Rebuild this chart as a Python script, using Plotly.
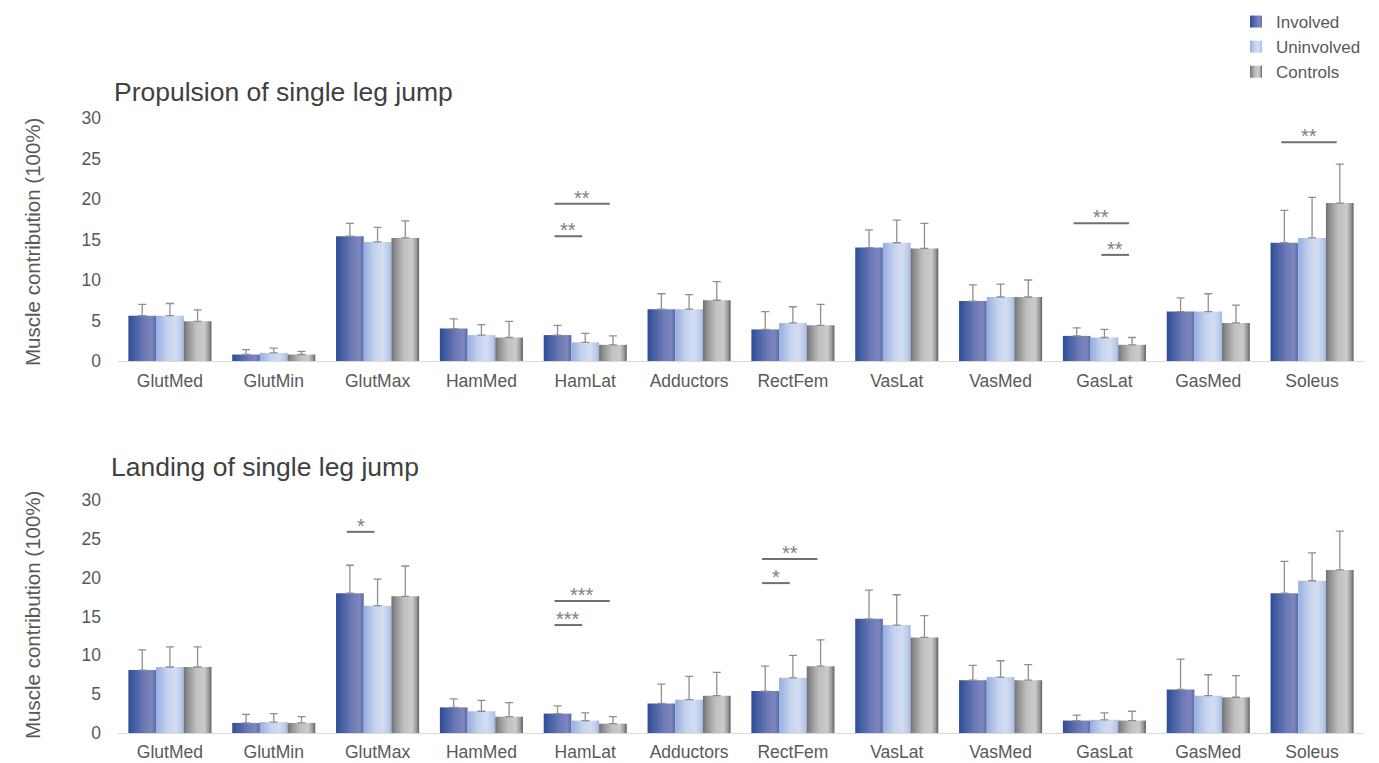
import plotly.graph_objects as go

muscles = ["GlutMed", "GlutMin", "GlutMax", "HamMed", "HamLat", "Adductors",
           "RectFem", "VasLat", "VasMed", "GasLat", "GasMed", "Soleus"]
groups = ["Involved", "Uninvolved", "Controls"]

# Propulsion of single leg jump
prop_involved = [5.6, 0.8, 15.4, 4.0, 3.2, 6.4, 3.9, 14.0, 7.4, 3.1, 6.1, 14.6]
prop_involved_sd = [1.4, 0.6, 1.6, 1.2, 1.2, 1.9, 2.2, 2.2, 2.0, 1.0, 1.7, 4.0]
prop_uninvolved = [5.6, 1.0, 14.7, 3.2, 2.3, 6.4, 4.7, 14.6, 7.9, 2.9, 6.1, 15.2]
prop_uninvolved_sd = [1.5, 0.6, 1.8, 1.3, 1.1, 1.8, 2.0, 2.8, 1.6, 1.0, 2.2, 5.0]
prop_controls = [4.9, 0.8, 15.2, 2.9, 2.0, 7.5, 4.4, 13.9, 7.9, 2.0, 4.7, 19.5]
prop_controls_sd = [1.4, 0.4, 2.1, 2.0, 1.1, 2.3, 2.6, 3.1, 2.1, 0.9, 2.2, 4.8]

# Landing of single leg jump
land_involved = [8.1, 1.3, 18.0, 3.3, 2.5, 3.8, 5.4, 14.7, 6.8, 1.6, 5.6, 18.0]
land_involved_sd = [2.6, 1.1, 3.6, 1.1, 1.0, 2.5, 3.2, 3.7, 1.9, 0.7, 3.9, 4.1]
land_uninvolved = [8.5, 1.4, 16.4, 2.8, 1.6, 4.3, 7.1, 13.9, 7.2, 1.7, 4.8, 19.6]
land_uninvolved_sd = [2.6, 1.1, 3.4, 1.4, 1.0, 3.0, 2.9, 3.9, 2.1, 0.9, 2.7, 3.6]
land_controls = [8.5, 1.3, 17.6, 2.1, 1.2, 4.8, 8.6, 12.3, 6.8, 1.6, 4.6, 21.0]
land_controls_sd = [2.6, 0.8, 3.9, 1.8, 0.9, 3.0, 3.4, 2.8, 2.0, 1.2, 2.8, 5.0]

# significance brackets: (muscle, from group idx, to group idx, y level, label)
prop_sig = [("HamLat", 0, 2, 19.4, "**"), ("HamLat", 0, 1, 15.4, "**"),
            ("GasLat", 0, 2, 17.0, "**"), ("GasLat", 1, 2, 13.1, "**"),
            ("Soleus", 0, 2, 27.0, "**")]
land_sig = [("GlutMax", 0, 1, 25.9, "*"),
            ("HamLat", 0, 2, 17.0, "***"), ("HamLat", 0, 1, 13.9, "***"),
            ("RectFem", 0, 2, 22.4, "**"), ("RectFem", 0, 1, 19.3, "*")]

y_ticks = [0, 5, 10, 15, 20, 25, 30]

colors = ["#5567a8", "#bccbeb", "#a8a8a8"]
err_color = "#8f8f8f"
text_color = "#595959"
font_family = "Liberation Sans, Arial, sans-serif"

fig = go.Figure()

panels = [
    ("x", "y", [prop_involved, prop_uninvolved, prop_controls],
     [prop_involved_sd, prop_uninvolved_sd, prop_controls_sd], True),
    ("x2", "y2", [land_involved, land_uninvolved, land_controls],
     [land_involved_sd, land_uninvolved_sd, land_controls_sd], False),
]

for xa, ya, vals, sds, show in panels:
    for gi, g in enumerate(groups):
        fig.add_trace(go.Bar(
            x=muscles, y=vals[gi], name=g, xaxis=xa, yaxis=ya,
            marker=dict(color=colors[gi], line=dict(width=0)),
            error_y=dict(type="data", array=sds[gi], symmetric=False,
                         arrayminus=[0] * len(muscles), color=err_color,
                         thickness=1.3, width=4),
            showlegend=show, legendgroup=g,
        ))

bar_w = 0.8 / 3
offsets = [-bar_w, 0, bar_w]

def add_sig(sig, xref, yref):
    for m, a, b, yv, lab in sig:
        ci = muscles.index(m)
        x0 = ci + offsets[a] - 0.03
        x1 = ci + offsets[b] - 0.03
        fig.add_shape(type="line", xref=xref, yref=yref, x0=x0, x1=x1, y0=yv, y1=yv,
                      line=dict(color="#6f6f6f", width=2))
        fig.add_annotation(x=(x0 + x1) / 2, y=yv, xref=xref, yref=yref, text=lab,
                           showarrow=False, yanchor="middle", yshift=6,
                           font=dict(size=20, color="#808080", family=font_family))

add_sig(prop_sig, "x", "y")
add_sig(land_sig, "x2", "y2")

axis_common = dict(showgrid=False, zeroline=False, automargin=False,
                   tickfont=dict(size=17.5, color=text_color, family=font_family))
xdom = [118 / 1379, 1364 / 1379]
fig.update_layout(
    width=1379, height=763,
    paper_bgcolor="white", plot_bgcolor="white",
    margin=dict(l=0, r=0, t=0, b=0, autoexpand=False),
    barmode="group", bargap=0.2, bargroupgap=0,
    font=dict(family=font_family, color=text_color),
    xaxis=dict(domain=xdom, anchor="y", showline=True, linecolor="#d9d9d9", linewidth=1,
               ticks="", ticklabelstandoff=4, **axis_common),
    yaxis=dict(domain=[1 - 361 / 763, 1 - 118 / 763], anchor="x", range=[0, 30],
               tickvals=y_ticks, showline=False, ticks="", ticklabelstandoff=16, **axis_common),
    xaxis2=dict(domain=xdom, anchor="y2", showline=True, linecolor="#d9d9d9", linewidth=1,
                ticks="", ticklabelstandoff=3, **axis_common),
    yaxis2=dict(domain=[1 - 733 / 763, 1 - 500 / 763], anchor="x2", range=[0, 30],
                tickvals=y_ticks, showline=False, ticks="", ticklabelstandoff=16, **axis_common),
    legend=dict(x=1236 / 1379, y=1 - 4 / 763, xanchor="left", yanchor="top",
                font=dict(size=17, color=text_color, family=font_family),
                bgcolor="rgba(0,0,0,0)", itemwidth=30, tracegroupgap=0,
                traceorder="normal"),
)

fig.add_annotation(text="Propulsion of single leg jump", xref="paper", yref="paper",
                   x=112 / 1379, y=1 - 92 / 763, xanchor="left", yanchor="middle",
                   showarrow=False, font=dict(size=26.5, color="#404040", family=font_family))
fig.add_annotation(text="Landing of single leg jump", xref="paper", yref="paper",
                   x=109 / 1379, y=1 - 467 / 763, xanchor="left", yanchor="middle",
                   showarrow=False, font=dict(size=26.5, color="#404040", family=font_family))
for yc in [242, 615]:
    fig.add_annotation(text="Muscle contribution (100%)", xref="paper", yref="paper",
                       x=32 / 1379, y=1 - yc / 763, xanchor="center", yanchor="middle",
                       textangle=-90, showarrow=False,
                       font=dict(size=20.5, color=text_color, family=font_family))

post = """
document.documentElement.style.margin = '0';
document.documentElement.style.padding = '0';
document.documentElement.style.overflow = 'hidden';
document.body.style.margin = '0';
document.body.style.padding = '0';
document.body.style.overflow = 'hidden';
var gd = document.getElementById('{plot_id}');
gd.style.position = 'absolute';
gd.style.left = '0px';
gd.style.top = '0px';
var svg = gd.querySelector('svg.main-svg');
var ns = 'http://www.w3.org/2000/svg';
var defs = svg.querySelector('defs');
if (!defs) { defs = document.createElementNS(ns, 'defs'); svg.insertBefore(defs, svg.firstChild); }
function mk(id, stops) {
  var g = document.createElementNS(ns, 'linearGradient');
  g.setAttribute('id', id); g.setAttribute('x1', '0'); g.setAttribute('x2', '1');
  g.setAttribute('y1', '0'); g.setAttribute('y2', '0');
  stops.forEach(function(s) {
    var st = document.createElementNS(ns, 'stop');
    st.setAttribute('offset', s[0]); st.setAttribute('stop-color', s[1]);
    g.appendChild(st);
  });
  defs.appendChild(g);
}
mk('gInv', [['0', '#2f4c96'], ['0.15', '#3d5aa0'], ['0.6', '#6f7bb7'], ['0.85', '#7d86bd'], ['1', '#5a68a8']]);
mk('gUni', [['0', '#94aee0'], ['0.4', '#c6d3ee'], ['0.7', '#d3ddf1'], ['0.9', '#bccbeb'], ['1', '#9fb5e3']]);
mk('gCon', [['0', '#6f6f6f'], ['0.12', '#8c8c8c'], ['0.45', '#c0c0c0'], ['0.75', '#cbcbcb'], ['0.9', '#9a9a9a'], ['1', '#5f5f5f']]);
var map = {'rgb(85, 103, 168)': 'url(#gInv)', 'rgb(188, 203, 235)': 'url(#gUni)', 'rgb(168, 168, 168)': 'url(#gCon)'};
gd.querySelectorAll('.barlayer .point path, .legendpoints path').forEach(function(p) {
  var f = p.style.fill;
  if (map[f]) { p.style.fill = map[f]; }
});
"""

fig.write_html("out.html", post_script=post, config={"displayModeBar": False})
